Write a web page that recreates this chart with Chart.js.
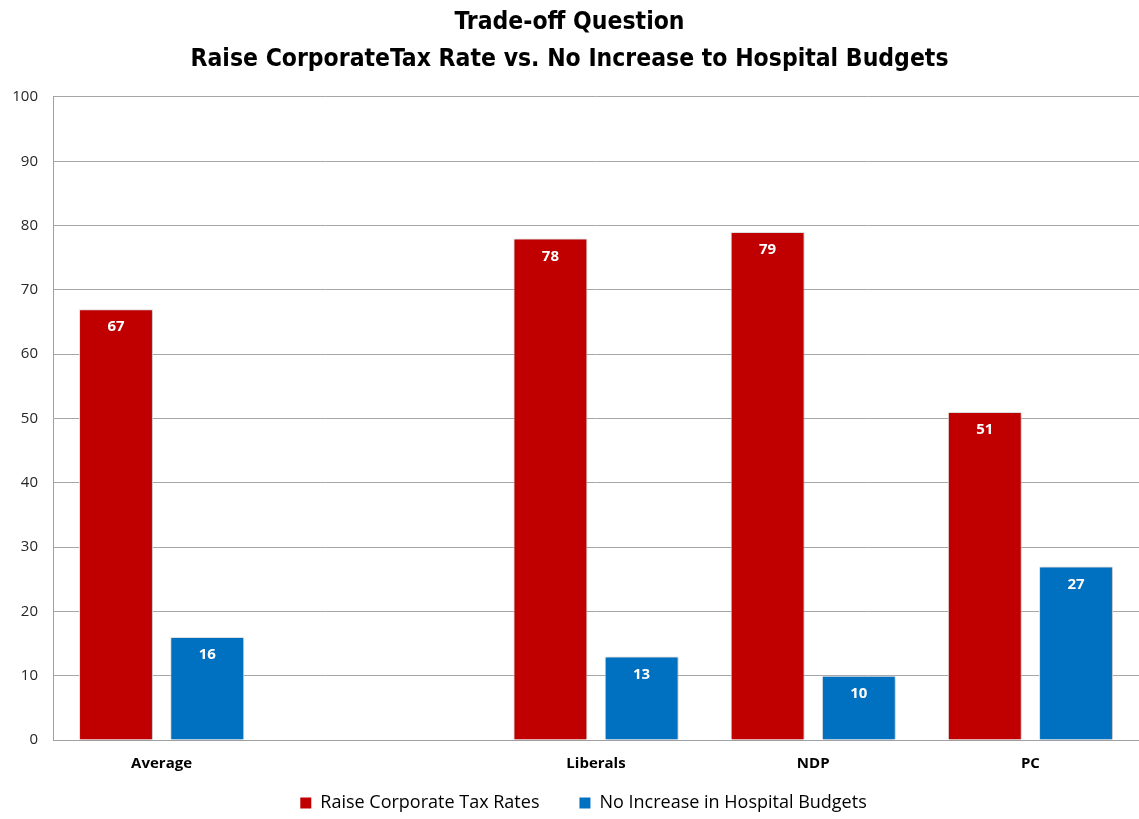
<!DOCTYPE html>
<html>
<head>
<meta charset="utf-8">
<script src="https://cdn.jsdelivr.net/npm/chart.js@4"></script>
<style>
  html, body { margin: 0; padding: 0; background: #fff; }
  #wrap { width: 1139px; height: 819px; position: relative; }
</style>
</head>
<body>
<div id="wrap"><canvas id="chart"></canvas></div>
<script>
const categories = ['Average', '', 'Liberals', 'NDP', 'PC'];
const raiseTax = [67, null, 78, 79, 51];
const noIncrease = [16, null, 13, 10, 27];
const yTicks = [0, 10, 20, 30, 40, 50, 60, 70, 80, 90, 100];
const titleLines = ['Trade-off Question', 'Raise CorporateTax Rate vs. No Increase to Hospital Budgets'];
const seriesNames = ['Raise Corporate Tax Rates', 'No Increase in Hospital Budgets'];

const FONT = '"DejaVu Sans Condensed", "Liberation Sans Narrow", sans-serif';
const BODY = '"Open Sans", "Noto Sans", sans-serif';
const LEGEND_LIFT = 34;
const LEGEND_SHIFT_X = 14;

// Value labels inside the top of each bar
const valueLabels = {
  id: 'valueLabels',
  afterDatasetsDraw(chart) {
    const ctx = chart.ctx;
    ctx.save();
    ctx.font = 'bold 15px ' + BODY;
    ctx.fillStyle = '#ffffff';
    ctx.textAlign = 'center';
    ctx.textBaseline = 'middle';
    chart.data.datasets.forEach((ds, i) => {
      chart.getDatasetMeta(i).data.forEach((bar, j) => {
        const v = ds.data[j];
        if (v == null) return;
        ctx.fillText(String(v), bar.x, bar.y + 18);
      });
    });
    ctx.restore();
  }
};

// Soft drop shadow behind the bars
const barShadow = {
  id: 'barShadow',
  beforeDatasetsDraw(chart) {
    chart.ctx.save();
    chart.ctx.shadowColor = 'rgba(0,0,0,0.22)';
    chart.ctx.shadowBlur = 3;
    chart.ctx.shadowOffsetX = 1;
    chart.ctx.shadowOffsetY = 1;
  },
  afterDatasetsDraw(chart) {
    chart.ctx.restore();
  }
};

// Wide horizontal gap between legend items while keeping the legend compact vertically
const compactLegend = {
  id: 'compactLegend',
  beforeUpdate(chart) {
    const lg = chart.legend;
    if (!lg || lg._compact) return;
    lg._compact = true;
    const fit = lg.fit.bind(lg);
    const draw = lg.draw.bind(lg);
    lg.fit = function () { fit(); this.height = Math.max(0, this.height - LEGEND_LIFT); };
    lg.draw = function () {
      const box = { top: this.top, left: this.left, right: this.right };
      this.top = box.top - LEGEND_LIFT;
      this.left = box.left + LEGEND_SHIFT_X;
      this.right = box.right + LEGEND_SHIFT_X;
      draw();
      Object.assign(this, box);
    };
  }
};

new Chart(document.getElementById('chart'), {
  type: 'bar',
  data: {
    labels: categories,
    datasets: [
      {
        label: seriesNames[0],
        data: raiseTax,
        backgroundColor: '#c00000',
        borderColor: '#e6e6e6',
        borderWidth: 1,
        barPercentage: 0.81,
        categoryPercentage: 0.84
      },
      {
        label: seriesNames[1],
        data: noIncrease,
        backgroundColor: '#0070c0',
        borderColor: '#e6e6e6',
        borderWidth: 1,
        barPercentage: 0.81,
        categoryPercentage: 0.84
      }
    ]
  },
  options: {
    responsive: true,
    maintainAspectRatio: false,
    animation: false,
    layout: { padding: { top: 4, right: 0, left: 0, bottom: -3 } },
    plugins: {
      title: {
        display: true,
        text: titleLines,
        color: '#000',
        font: { family: FONT, size: 24.5, weight: 'bold', lineHeight: 1.51 },
        padding: { top: 0, bottom: 19 }
      },
      legend: {
        position: 'bottom',
        labels: {
          color: '#000',
          font: { family: BODY, size: 18 },
          boxWidth: 11,
          boxHeight: 11,
          padding: 40,
          generateLabels(chart) {
            return chart.data.datasets.map((ds, i) => ({
              text: ds.label,
              fillStyle: ds.backgroundColor,
              strokeStyle: ds.backgroundColor,
              lineWidth: 0,
              datasetIndex: i
            }));
          }
        }
      },
      tooltip: { enabled: false }
    },
    scales: {
      x: {
        grid: { display: false, drawTicks: false },
        border: { color: '#a0a0a0' },
        ticks: {
          color: '#000',
          font: { family: BODY, size: 15, weight: 'bold' },
          padding: 15
        }
      },
      y: {
        min: 0,
        max: 100,
        afterBuildTicks(scale) { scale.ticks = yTicks.map(v => ({ value: v })); },
        afterFit(scale) { scale.width = 53; },
        grid: { color: '#a6a6a6', lineWidth: 1, drawTicks: false },
        border: { color: '#a0a0a0' },
        ticks: {
          color: '#262626',
          font: { family: BODY, size: 15 },
          padding: 15
        }
      }
    }
  },
  plugins: [compactLegend, barShadow, valueLabels]
});
</script>
</body>
</html>
